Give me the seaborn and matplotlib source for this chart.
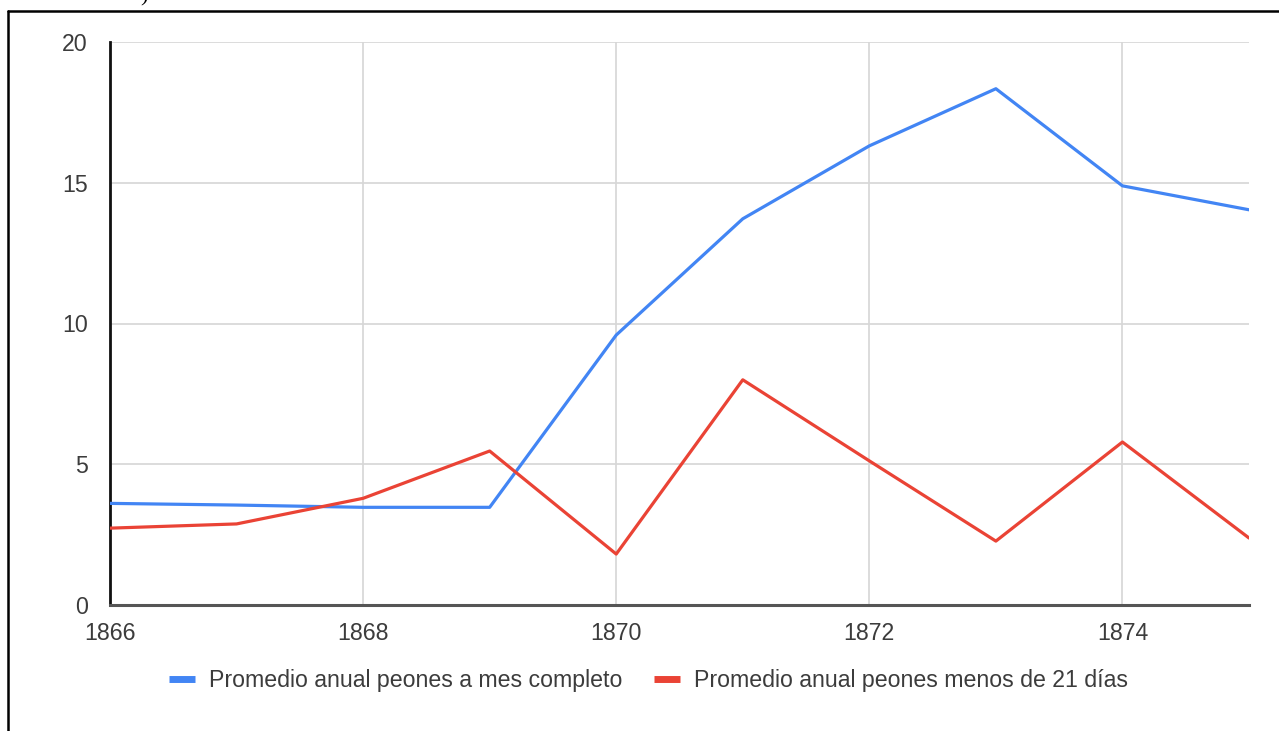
import matplotlib
matplotlib.use("Agg")
import matplotlib.pyplot as plt
from matplotlib.lines import Line2D
import seaborn as sns
import pandas as pd

# Annual averages of day labourers (peones), 1866-1875
years = [1866, 1867, 1868, 1869, 1870, 1871, 1872, 1873, 1874, 1875]
mes_completo = [3.61, 3.55, 3.47, 3.47, 9.59, 13.72, 16.31, 18.34, 14.89, 14.04]
menos_21_dias = [2.73, 2.88, 3.79, 5.47, 1.81, 8.00, 5.12, 2.27, 5.79, 2.38]

series_names = [
    "Promedio anual peones a mes completo",
    "Promedio anual peones menos de 21 días",
]
series_colors = ["#4285f4", "#ea4335"]
y_ticks = [0, 5, 10, 15, 20]
x_ticks = [1866, 1868, 1870, 1872, 1874]

df = pd.DataFrame({
    "Año": years * 2,
    "Promedio": mes_completo + menos_21_dias,
    "Serie": [series_names[0]] * len(years) + [series_names[1]] * len(years),
})

sns.set_style("white")
plt.rcParams["font.family"] = ["Liberation Sans", "DejaVu Sans"]

FS = 16.7
TEXT = "#3c3c3c"
W, H = 1279, 731
fig = plt.figure(figsize=(W / 100, H / 100), dpi=100)
ax = fig.add_axes([110 / W, 1 - 605 / H, (1249 - 110) / W, (605 - 42) / H])

sns.lineplot(
    data=df, x="Año", y="Promedio", hue="Serie",
    palette=dict(zip(series_names, series_colors)),
    linewidth=2.3, ax=ax, legend=False, zorder=3,
)

ax.set_xlim(years[0], years[-1])
ax.set_ylim(y_ticks[0], y_ticks[-1])
ax.set_xticks(x_ticks)
ax.set_yticks(y_ticks)
ax.set_xlabel("")
ax.set_ylabel("")

ax.grid(True, color="#d6d6d6", linewidth=1.2, zorder=0)
ax.set_axisbelow(True)

for side in ("top", "right"):
    ax.spines[side].set_visible(False)
ax.spines["left"].set_color("#111111")
ax.spines["left"].set_linewidth(2)
ax.spines["bottom"].set_color("#555555")
ax.spines["bottom"].set_linewidth(2.2)

ax.tick_params(axis="y", direction="inout", length=16, width=1.6,
               color="#111111", labelsize=FS, labelcolor=TEXT, pad=8)
ax.tick_params(axis="x", length=0, labelsize=FS, labelcolor=TEXT, pad=12)

handles = [Line2D([0], [0], color=c, linewidth=5, solid_capstyle="butt")
           for c in series_colors]
fig.legend(
    handles, series_names, loc="center", bbox_to_anchor=(0.507, 1 - 681 / H),
    ncol=2, frameon=False, fontsize=FS, labelcolor=TEXT,
    handlelength=1.1, handletextpad=0.6, columnspacing=1.4,
)

# Page frame around the chart
fig.add_artist(Line2D([8 / W, 1], [1 - 10.5 / H, 1 - 10.5 / H],
                      transform=fig.transFigure, color="black", linewidth=1.8))
fig.add_artist(Line2D([8 / W, 8 / W], [0, 1 - 10.5 / H],
                      transform=fig.transFigure, color="black", linewidth=1.8))
fig.text(140 / W, 1 - 1 / H, ")", fontsize=16, family="Liberation Serif",
         va="baseline", ha="left", color="black")

fig.savefig("out.png", dpi=100, facecolor="white")
